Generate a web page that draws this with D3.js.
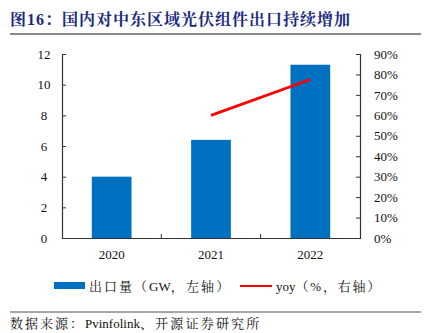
<!DOCTYPE html>
<html><head><meta charset="utf-8">
<script src="https://cdn.jsdelivr.net/npm/d3@7"></script>
<style>body{margin:0;background:#fff;}svg{display:block;}</style>
</head><body>
<svg id="c" width="426" height="333"></svg>
<script>
const categories = ["2020", "2021", "2022"];
const exportVolume = [4.0, 6.4, 11.3];
const yoyCategories = ["2021", "2022"];
const yoyValues = [0.60, 0.775];
const leftTicks = [0, 2, 4, 6, 8, 10, 12];
const rightTicks = [0, 0.1, 0.2, 0.3, 0.4, 0.5, 0.6, 0.7, 0.8, 0.9];

const svg = d3.select("#c");
const serif = "'Liberation Serif','Times New Roman',serif";
const cjk = "'Liberation Serif','Noto Serif CJK SC','Noto Sans CJK SC',serif";
const m = {l: 62, r: 360, t: 54, b: 238};

const x = d3.scaleBand().domain(categories).range([m.l, m.r]).paddingInner(0.6).paddingOuter(0.3);
const yL = d3.scaleLinear().domain([0, 12]).range([m.b, m.t]);
const yR = d3.scaleLinear().domain([0, 0.9]).range([m.b, m.t]);

function mixedText(xp, yp, parts) {
  const t = svg.append("text").attr("x", xp).attr("y", yp).attr("font-size", 13)
    .attr("font-family", cjk).attr("fill", "#111");
  parts.forEach(p => t.append("tspan").attr("letter-spacing", p[1]).text(p[0]));
  return t;
}

// Title
svg.append("text").attr("x", 10).attr("y", 25)
  .attr("fill", "#1b2a80").attr("font-weight", "bold").attr("font-size", 16)
  .attr("letter-spacing", 1).attr("font-family", cjk).text("图16：国内对中东区域光伏组件出口持续增加");
svg.append("line").attr("x1", 10).attr("x2", 421).attr("y1", 34).attr("y2", 34)
  .attr("stroke", "#888").attr("stroke-width", 2);

// Bars
svg.selectAll("rect.bar").data(categories).join("rect").attr("class", "bar")
  .attr("x", d => x(d)).attr("width", x.bandwidth())
  .attr("y", (d, i) => yL(exportVolume[i])).attr("height", (d, i) => m.b - yL(exportVolume[i]))
  .attr("fill", "#0070c0");

// Left axis
const gl = svg.append("g").attr("transform", `translate(${m.l},0)`)
  .call(d3.axisLeft(yL).tickValues(leftTicks).tickSizeInner(-4).tickSizeOuter(-4).tickPadding(24));
// Right axis
const gr = svg.append("g").attr("transform", `translate(${m.r},0)`)
  .call(d3.axisRight(yR).tickValues(rightTicks).tickFormat(d3.format(".0%")).tickSizeInner(-4).tickSizeOuter(-4).tickPadding(14));
// Bottom axis
const step = x.step();
const boundaries = [m.l + x.paddingOuter() * step - x.paddingInner()*step/2 + step, m.l + x.paddingOuter()*step - x.paddingInner()*step/2 + 2*step];
const gb = svg.append("g").attr("transform", `translate(0,${m.b})`)
  .call(d3.axisBottom(x).tickSize(0).tickPadding(12));
gb.selectAll(".tick-b").data(boundaries).join("line").attr("class","tick-b")
  .attr("x1", d => d).attr("x2", d => d).attr("y1", 0).attr("y2", -4).attr("stroke", "#333");

[gl, gr, gb].forEach(g => {
  g.selectAll("path.domain").attr("stroke", "#333").attr("stroke-width", 1.2);
  g.selectAll(".tick line").attr("stroke", "#333");
  g.selectAll("text").attr("font-family", serif).attr("font-size", 13).attr("fill", "#111");
});
gl.selectAll("text").attr("text-anchor", "middle").attr("dx", "6");
gr.selectAll("text").attr("text-anchor", "start");

// Line
const line = d3.line().x(d => x(d[0]) + x.bandwidth()/2).y(d => yR(d[1]));
svg.append("path").datum(yoyCategories.map((c, i) => [c, yoyValues[i]]))
  .attr("d", line).attr("fill", "none").attr("stroke", "#ff0000").attr("stroke-width", 2.8);

// Legend
svg.append("rect").attr("x", 54).attr("y", 282).attr("width", 31).attr("height", 7).attr("fill", "#0070c0");
mixedText(89, 291, [["出口量（", 2], ["GW", 0], ["，左轴）", 2.2]]);
svg.append("line").attr("x1", 240).attr("x2", 272).attr("y1", 286).attr("y2", 286)
  .attr("stroke", "#ff0000").attr("stroke-width", 2);
mixedText(276, 291, [["yoy", 0], ["（%，右轴）", 1.8]]);

// Bottom rule + source
svg.append("line").attr("x1", 10).attr("x2", 421).attr("y1", 312).attr("y2", 312)
  .attr("stroke", "#888").attr("stroke-width", 1.5);
mixedText(10, 328, [["数据来源：", 2], ["Pvinfolink", 0], ["、开源证券研究所", 2.2]]);
</script>
</body></html>
